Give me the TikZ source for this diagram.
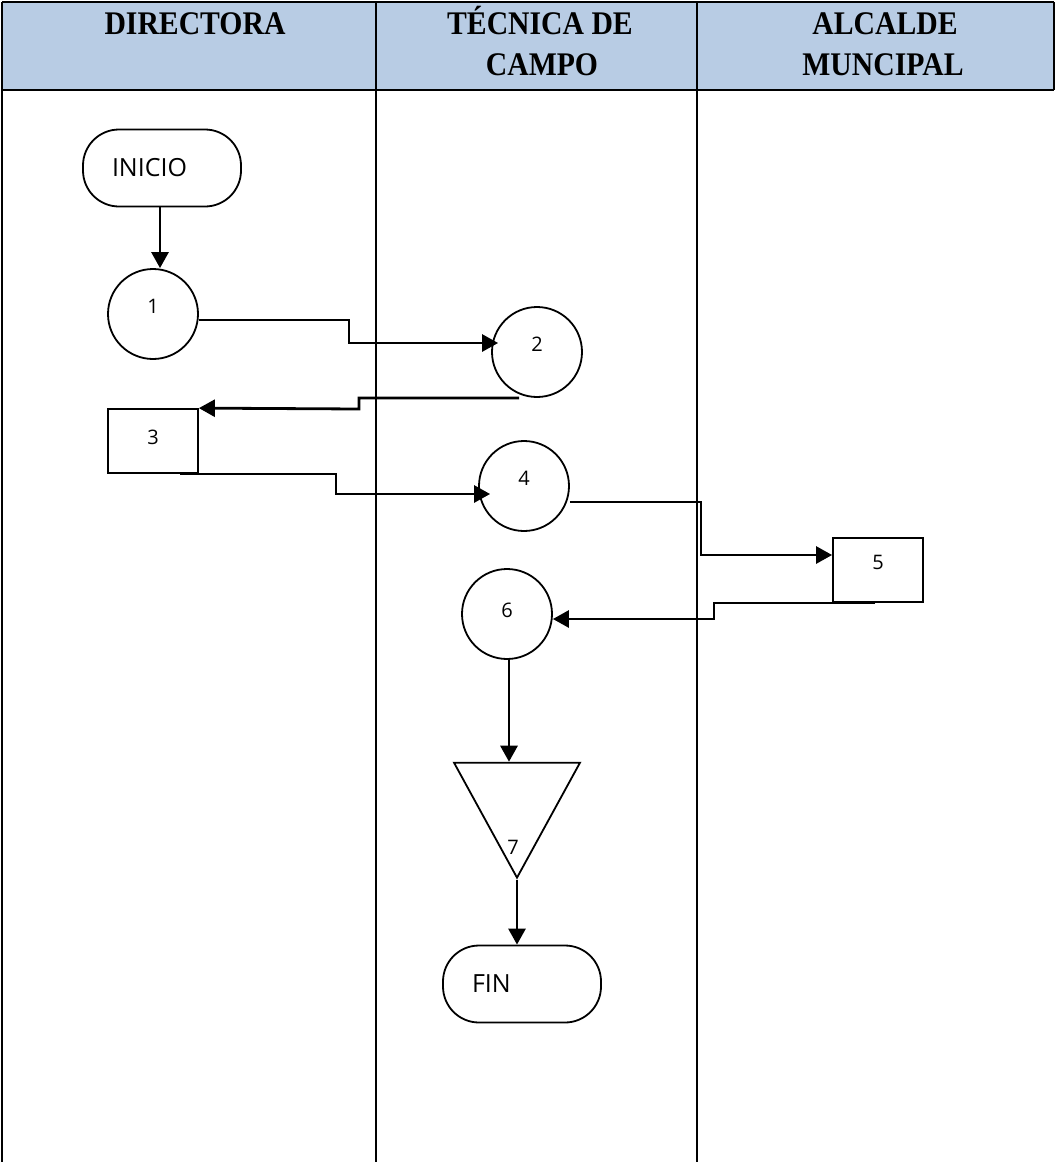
\documentclass[tikz,border=0pt]{standalone}
\usepackage{fontspec}
\setmainfont{Liberation Serif}
\newfontfamily\hdrfont[FakeStretch=0.9]{Liberation Serif}
\newfontfamily\osans{Open Sans}
\usetikzlibrary{arrows.meta,shapes.geometric}
\definecolor{hdrblue}{RGB}{184,204,228}
\begin{document}
\begin{tikzpicture}[x=1pt,y=-1pt,
 lane/.style={line width=2.4pt},
 hdrtxt/.style={font=\hdrfont\bfseries\fontsize{33}{36}\selectfont, anchor=base, inner sep=0},
 conn/.style={line width=2.8pt, -{Triangle[length=16pt,width=17pt]}},
 circ/.style={draw, circle, line width=1.8pt, minimum size=90pt, inner sep=0},
 proc/.style={draw, rectangle, line width=1.8pt, minimum width=90pt, minimum height=64pt, inner sep=0},
 term/.style={draw, rectangle, rounded corners=36pt, line width=1.8pt, minimum height=77pt, text width=100pt, inner xsep=29pt, align=left, font=\osans\fontsize{25}{28}\selectfont},
 num/.style={font=\osans\fontsize{20}{22}\selectfont, inner sep=0},
]
\useasboundingbox (0,0) rectangle (1055,1162);
% header
\fill[hdrblue] (2,2) rectangle (1054,90);
\draw[lane] (2,2) -- (1054,2);
\draw[lane] (2,90) -- (1054,90);
\draw[lane] (1054,2) -- (1054,90);
\draw[lane] (2,2) -- (2,1162);
\draw[lane] (376,2) -- (376,1162);
\draw[lane] (697,2) -- (697,1162);
\node[hdrtxt] (h1) at (195,34) {DIRECTORA};
\node[hdrtxt] (h2a) at (540,34) {TÉCNICA DE};
\node[hdrtxt] (h2b) at (542,75) {CAMPO};
\node[hdrtxt] (h3a) at (885,34) {ALCALDE};
\node[hdrtxt] (h3b) at (883,75) {MUNCIPAL};
% nodes
\node[term] (ini) at (162,168) {INICIO};
\node[circ, label={[num,yshift=8pt]center:1}] (c1) at (153,314) {};
\node[circ, label={[num,yshift=8pt]center:2}] (c2) at (537,352) {};
\node[proc, label={[num,yshift=4pt]center:3}] (b3) at (153,441) {};
\node[circ, label={[num,yshift=8pt]center:4}] (c4) at (524,486) {};
\node[proc, label={[num,yshift=8pt]center:5}] (b5) at (878,570) {};
\node[circ, label={[num,yshift=4pt]center:6}] (c6) at (507,614) {};
\node[draw, isosceles triangle, isosceles triangle stretches, shape border rotate=-90,
      minimum width=126pt, minimum height=115pt, inner sep=0, line width=1.8pt,
      anchor=apex] (t7) at (517,880) {};
\node[num] (n7) at ([xshift=-4pt,yshift=33pt]t7.apex) {7};
\node[term] (fin) at (522,984) {FIN};
% connectors
\draw[conn] ([xshift=-2pt]ini.south) -- ([xshift=-2pt]ini.south |- c1.north);
\draw[conn] ([yshift=-6pt]c1.east) -| (349,343) -- ([xshift=7pt,yshift=9pt]c2.west);
\draw[conn] ([xshift=-18pt]c2.south) -| (359,409) -- (b3.north east);
\draw[conn] ([xshift=27pt]b3.south) -| (336,494) -- ([xshift=12pt,yshift=-8pt]c4.west);
\draw[conn] ([yshift=-16pt]c4.east) -| (701,555) -- ([yshift=15pt]b5.west);
\draw[conn] ([xshift=-3pt]b5.south) -| (714,619) -- ([yshift=-5pt]c6.east);
\draw[conn] ([xshift=2pt]c6.south) -- ([xshift=2pt]c6.south |- t7.north);
\draw[conn] (t7.apex) -- (t7.apex |- fin.north);
\end{tikzpicture}
\end{document}
